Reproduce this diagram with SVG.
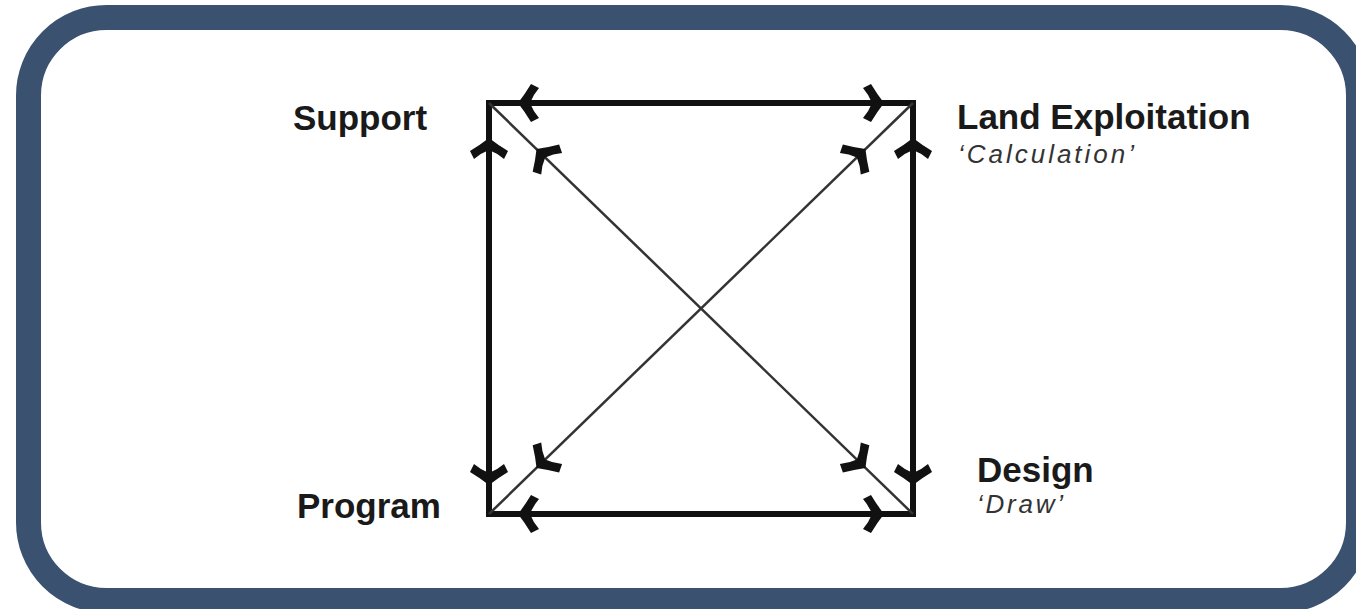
<svg xmlns="http://www.w3.org/2000/svg" xmlns:xlink="http://www.w3.org/1999/xlink" width="1356" height="609" viewBox="0 0 1356 609">
<style>
.frame{fill:none;stroke:#3a5270;stroke-width:25}
.edge{fill:none;stroke:#111;stroke-width:6;stroke-linecap:square}
.diag{fill:none;stroke:#333;stroke-width:2.5}
.ah{fill:#111}
.lbl{font-family:"Liberation Sans",Arial,sans-serif;font-weight:bold;font-size:35px;fill:#1a1a1a}
.sub{font-family:"Liberation Sans",Arial,sans-serif;font-style:italic;font-size:26px;fill:#333}
</style>
<defs>
<path id="ah" class="ah" d="M2,0 Q-5,-9 -11,-19 L-19,-15 Q-13,-8 -10,0 Q-13,8 -19,15 L-11,19 Q-5,9 2,0 Z"/>
</defs>
<rect class="frame" x="28.5" y="17.5" width="1330" height="583" rx="78" ry="78"/>
<g id="connectors">
<rect class="edge" x="489" y="103" width="424" height="411"/>
<line class="diag" x1="489" y1="103" x2="913" y2="514"/>
<line class="diag" x1="913" y1="103" x2="489" y2="514"/>
<use xlink:href="#ah" transform="translate(520,103) rotate(180)"/>
<use xlink:href="#ah" transform="translate(882,103)"/>
<use xlink:href="#ah" transform="translate(520,514) rotate(180)"/>
<use xlink:href="#ah" transform="translate(882,514)"/>
<use xlink:href="#ah" transform="translate(489,140) rotate(-90)"/>
<use xlink:href="#ah" transform="translate(489,483) rotate(90)"/>
<use xlink:href="#ah" transform="translate(913,140) rotate(-90)"/>
<use xlink:href="#ah" transform="translate(913,483) rotate(90)"/>
<use xlink:href="#ah" transform="translate(538,150.5) rotate(224.1)"/>
<use xlink:href="#ah" transform="translate(864,150.5) rotate(-44.1)"/>
<use xlink:href="#ah" transform="translate(538,466.5) rotate(135.9)"/>
<use xlink:href="#ah" transform="translate(864,466.5) rotate(44.1)"/>
</g>
<g id="support"><text class="lbl" x="293" y="130">Support</text></g>
<g id="land-exploitation"><text class="lbl" x="957" y="129">Land Exploitation</text><text class="sub" x="958" y="163" textLength="176" lengthAdjust="spacing">‘Calculation’</text></g>
<g id="program"><text class="lbl" x="297" y="518">Program</text></g>
<g id="design"><text class="lbl" x="977" y="482">Design</text><text class="sub" x="977" y="513" textLength="86" lengthAdjust="spacing">‘Draw’</text></g>
</svg>
